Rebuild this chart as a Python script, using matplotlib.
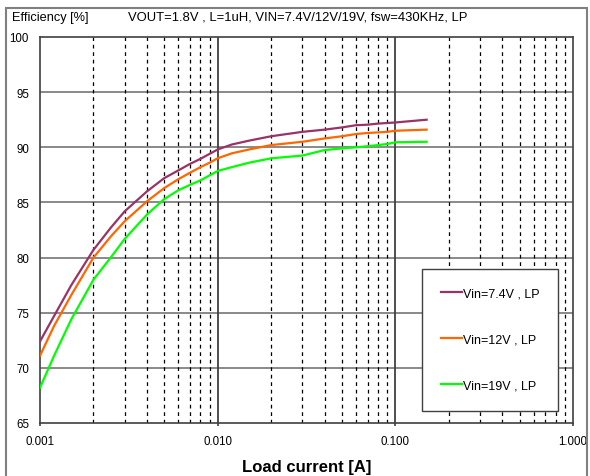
import numpy as np
import matplotlib.pyplot as plt
from matplotlib.patches import Rectangle

plt.rcParams['font.family'] = ['Liberation Sans', 'DejaVu Sans']

# load current [A]
load = [0.001, 0.0012, 0.0015, 0.002, 0.0025, 0.003, 0.004, 0.005, 0.006,
        0.007, 0.008, 0.009, 0.010, 0.012, 0.015, 0.02, 0.03, 0.04, 0.05,
        0.06, 0.07, 0.08, 0.09, 0.1, 0.15]
# efficiency [%]
eff_7v4 = [72.4, 74.7, 77.5, 80.7, 82.7, 84.2, 86.0, 87.2, 87.9, 88.5, 88.95,
           89.4, 89.8, 90.25, 90.6, 91.0, 91.4, 91.6, 91.8, 92.0, 92.05, 92.15,
           92.2, 92.25, 92.5]
eff_12v = [71.1, 73.8, 76.6, 80.0, 81.9, 83.3, 85.1, 86.3, 87.1, 87.7, 88.2,
           88.6, 89.0, 89.45, 89.8, 90.2, 90.5, 90.8, 91.0, 91.2, 91.3, 91.35,
           91.4, 91.5, 91.6]
eff_19v = [68.2, 71.1, 74.4, 78.0, 80.0, 81.7, 83.9, 85.3, 86.1, 86.6, 87.0,
           87.45, 87.85, 88.2, 88.6, 89.0, 89.25, 89.75, 89.9, 90.0, 90.1, 90.2,
           90.3, 90.45, 90.5]

labels = ['Vin=7.4V , LP', 'Vin=12V , LP', 'Vin=19V , LP']
colors = ['#993366', '#ff6600', '#00ff00']
yticks = [65, 70, 75, 80, 85, 90, 95, 100]
xticks = [0.001, 0.01, 0.1, 1.0]
xticklabels = ['0.001', '0.010', '0.100', '1.000']

fig = plt.figure(figsize=(5.9, 4.77), dpi=100)
ax = fig.add_axes([40 / 590, 1 - 424 / 477, 533 / 590, 386 / 477])

# outer frame of the chart
fig.patches.append(Rectangle((6 / 590, -0.05), 581 / 590, 1.05 - 9 / 477,
                             transform=fig.transFigure, fill=False,
                             edgecolor='#808080', linewidth=1.5))

ax.set_xscale('log')
ax.set_xlim(0.001, 1.0)
ax.set_ylim(65, 100)

for y in yticks[1:-1]:
    ax.axhline(y, color='#808080', linewidth=1.3, zorder=1)
for dec in [0.001, 0.01, 0.1]:
    for m in range(2, 10):
        ax.axvline(dec * m, color='black', linewidth=0.9,
                   linestyle=(0, (3, 3)), zorder=1)
for x in [0.01, 0.1]:
    ax.axvline(x, color='#404040', linewidth=1.3, zorder=1)

for e, c, l in zip([eff_7v4, eff_12v, eff_19v], colors, labels):
    ax.plot(load, e, color=c, linewidth=1.6, label=l, zorder=3)

ax.set_xticks(xticks)
ax.set_xticklabels(xticklabels)
ax.set_xticks([], minor=True)
ax.set_yticks(yticks)
ax.tick_params(axis='both', labelsize=8.3, colors='#404040', labelcolor='black')
ax.tick_params(axis='y', length=0, pad=8)
ax.tick_params(axis='x', length=2.5, width=1.2, pad=6.5)
for s in ax.spines.values():
    s.set_color('#404040')
    s.set_linewidth(1.2)

ax.set_xlabel('Load current [A]', fontsize=12, fontweight='bold', labelpad=8)
fig.text(12 / 590, 1 - 18 / 477, 'Efficiency [%]', fontsize=9.2, va='center')
fig.text(128 / 590, 1 - 18 / 477,
         'VOUT=1.8V , L=1uH, VIN=7.4V/12V/19V, fsw=430KHz, LP',
         fontsize=9.4, va='center')

leg = ax.legend(loc='upper left', bbox_to_anchor=(0.7167, 0.035, 0.2552, 0.365),
                mode='expand', fontsize=9, frameon=True, fancybox=False,
                handlelength=1.7, handletextpad=0.1, labelspacing=2.74,
                borderpad=1.5, borderaxespad=0)
leg.get_frame().set_edgecolor('#404040')
leg.get_frame().set_linewidth(1.0)
leg.get_frame().set_alpha(1)

fig.savefig('out.png', dpi=100)
